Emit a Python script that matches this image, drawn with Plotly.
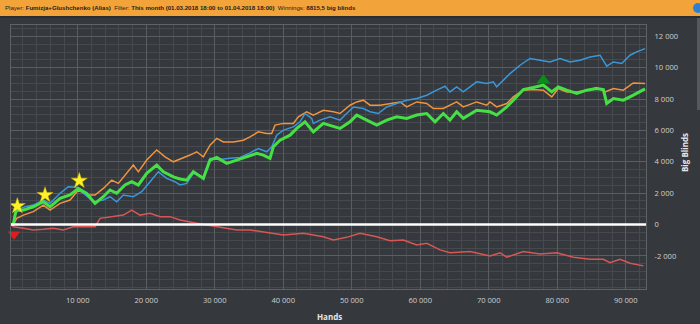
import plotly.graph_objects as go

# ---------------- data ----------------
green_x = [300, 600, 900, 1100, 2070, 3520, 4980, 5960, 7420, 8880, 10090, 11310, 12530, 13740, 14720,
           15690, 16900, 17880, 18850, 20070, 21530, 22500, 23960, 24930, 25910, 26880, 28340, 29310,
           30290, 31750, 33210, 34670, 36130, 37100, 38070, 38560, 39530, 41000, 41970, 43180, 44400,
           45860, 47320, 48290, 49750, 50730, 52190, 53650, 55110, 56570, 58030, 59490, 60950, 62160,
           63370, 64340, 65320, 66290, 68240, 70190, 71160, 72630, 73590, 75050, 76510, 77970, 79200,
           80160, 81390, 82850, 84310, 85770, 86740, 87230, 88200, 89650, 91110, 92820]
green_y = [0, 0, 700, 900, 920, 1130, 1450, 1130, 1670, 1880, 2300, 1990, 1350, 1770, 2200,
           1990, 2520, 2730, 2520, 3260, 3790, 3360, 3040, 2900, 2830, 3360, 2940, 4110,
           4280, 3900, 4110, 4320, 4540, 4430, 4220, 4960, 5380, 5700, 6130, 6550, 5910,
           6450, 6230, 6130, 6550, 6980, 6660, 6340, 6660, 6870, 6770, 6980, 7080, 6550,
           7080, 6660, 7190, 6770, 7290, 7190, 6980, 7500, 7930, 8610, 8740, 8890, 8460,
           8780, 8570, 8360, 8570, 8680, 8610, 7720, 8040, 7930, 8250, 8650]

blue_x = [300, 600, 900, 1100, 2310, 3520, 4980, 5960, 7420, 8630, 9850, 11070, 12280, 13740, 14720,
          15690, 16660, 18120, 19340, 20560, 21770, 22990, 24200, 24930, 25910, 26880, 28340, 29310,
          30770, 32230, 33700, 35160, 36370, 37590, 38320, 39050, 40020, 41480, 42450, 43180, 44160,
          44400, 45370, 46830, 48290, 49030, 50260, 51700, 52670, 53890, 55110, 56570, 58030, 59490,
          60950, 62410, 63620, 64340, 65320, 66290, 68240, 69700, 70670, 71160, 72130, 73110, 74570,
          76030, 77490, 78950, 80410, 81870, 83330, 84790, 86250, 87230, 88200, 89420, 90630, 91600,
          92820]
blue_y = [0, 0, 700, 900, 1130, 1240, 1560, 1350, 1990, 2410, 2370, 1880, 1450, 1560, 1770,
          1450, 1880, 1770, 2090, 2730, 3360, 2940, 2730, 2520, 2620, 3260, 3040, 4220,
          4150, 4220, 4280, 4570, 4850, 4640, 4960, 5700, 6020, 6230, 6550, 7080, 6770,
          6450, 6660, 6870, 6660, 6980, 7500, 7400, 7190, 7080, 7500, 7720, 7930, 8040,
          8250, 8570, 8820, 8460, 8780, 8460, 9100, 8990, 9100, 8780, 9200, 9630, 10160,
          10590, 10480, 10370, 10590, 10370, 10480, 10690, 10800, 10100, 10370, 10270, 10800, 11010,
          11220]

orange_x = [300, 600, 1090, 2060, 3520, 4980, 5960, 7420, 8880, 10090, 11310, 12530, 13740, 14960,
            15930, 17150, 18120, 18850, 20070, 21530, 22750, 23960, 24930, 26390, 27370, 28340, 29310,
            30290, 31260, 32720, 34180, 35150, 36370, 37590, 38320, 38800, 40020, 41480, 42210, 43430,
            44400, 45860, 47320, 48290, 49750, 50730, 51700, 52670, 54130, 55590, 57050, 58030, 59490,
            60950, 61920, 63370, 65320, 66290, 68240, 69700, 70190, 71160, 72630, 73590, 75050, 76510,
            77970, 79200, 80160, 81390, 82850, 84310, 85770, 86980, 88200, 89650, 91110, 92820]
orange_y = [0, 0, 390, 600, 820, 1240, 920, 1350, 1560, 2200, 1880, 1880, 2300, 2830,
            2620, 3260, 3790, 3360, 4110, 4750, 4320, 4000, 4160, 4430, 4640, 4320, 5060,
            5490, 5270, 5270, 5380, 5590, 5910, 5810, 5810, 6340, 6450, 6450, 6870, 7190,
            6980, 7290, 7190, 7080, 7610, 7820, 7930, 7610, 7610, 7720, 7820, 7500, 7820,
            7720, 7400, 7400, 7820, 7500, 7820, 7610, 7820, 7500, 7720, 8140, 8570, 8610,
            8570, 8140, 8680, 8460, 8460, 8570, 8740, 8460, 8680, 8570, 9030, 8990]

red_x = [300, 600, 2060, 3520, 4980, 6450, 7900, 9360, 10820, 12530, 13260, 14720, 16660, 17880,
         19100, 20560, 22020, 23470, 24930, 27370, 30290, 33210, 35160, 37100, 38080, 40020, 42940,
         45860, 47320, 49270, 51210, 53650, 55590, 57540, 59490, 60950, 62890, 64350, 67270, 70190,
         71650, 72630, 75060, 77490, 79930, 82360, 84790, 86740, 87710, 89170, 90630, 92580]
red_y = [0, -140, -240, -350, -310, -240, -350, -140, -140, -140, 390, 500, 600, 920,
         600, 710, 500, 500, 290, 80, -140, -350, -350, -460, -520, -670, -560,
         -780, -990, -820, -560, -780, -1030, -990, -1310, -1200, -1620, -1800, -1730, -2010,
         -1800, -2090, -1730, -1880, -1800, -2090, -2220, -2220, -2430, -2220, -2470, -2640]

star_x = [1190, 5230, 10230]
star_y = [1180, 1880, 2790]
down_x = [700]
down_y = [-620]
up_x = [77970]
up_y = [9200]

x_tickvals = [10000, 20000, 30000, 40000, 50000, 60000, 70000, 80000, 90000]
x_ticktext = ["10 000", "20 000", "30 000", "40 000", "50 000", "60 000", "70 000", "80 000", "90 000"]
y_tickvals = [-2000, 0, 2000, 4000, 6000, 8000, 10000, 12000]
y_ticktext = ["-2 000", "0", "2 000", "4 000", "6 000", "8 000", "10 000", "12 000"]

title_html = ("Player: <b>Fumizja+Glushchenko (Alias)</b>  Filter: <b>This month (01.03.2018 18:00 to "
              "01.04.2018 18:00)</b>  Winnings: <b>8815,5 big blinds</b>")

# ---------------- figure ----------------
BG = "#35383c"
fig = go.Figure()

fig.add_trace(go.Scatter(x=red_x, y=red_y, mode="lines", line=dict(color="#d85656", width=1.5), hoverinfo="skip"))
fig.add_trace(go.Scatter(x=orange_x, y=orange_y, mode="lines", line=dict(color="#ef9440", width=1.5), hoverinfo="skip"))
fig.add_trace(go.Scatter(x=blue_x, y=blue_y, mode="lines", line=dict(color="#3b97d8", width=1.5), hoverinfo="skip"))
fig.add_trace(go.Scatter(x=green_x, y=green_y, mode="lines", line=dict(color="#45e045", width=3), hoverinfo="skip"))
fig.add_trace(go.Scatter(x=star_x, y=star_y, mode="markers",
                         marker=dict(symbol="star", size=12, color="#fff02a", line=dict(color="#c8b400", width=0.5))))
fig.add_trace(go.Scatter(x=down_x, y=down_y, mode="markers", cliponaxis=False,
                         marker=dict(symbol="triangle-down", size=11, color="#e01c1c")))
fig.add_trace(go.Scatter(x=up_x, y=up_y, mode="markers",
                         marker=dict(symbol="triangle-up", size=12, color="#0c8a1c")))

W, H = 700, 324
L, R, T, B = 11, 54, 25, 35
pw, ph = W - L - R, H - T - B

def px_x(p):
    return (p - L) / pw

def px_y(p):
    return (H - B - p) / ph

shapes = [
    dict(type="line", xref="paper", yref="y", x0=0, x1=1, y0=0, y1=0, line=dict(color="white", width=2.5)),
    dict(type="rect", xref="paper", yref="paper", x0=px_x(0), x1=px_x(700), y0=px_y(16), y1=px_y(0),
         fillcolor="#f2a43a", line=dict(width=0), layer="above"),
    dict(type="rect", xref="paper", yref="paper", x0=px_x(0), x1=px_x(700), y0=px_y(18), y1=px_y(16),
         fillcolor="#2b2d30", line=dict(width=0), layer="above"),
    dict(type="rect", xref="paper", yref="paper", x0=px_x(697), x1=px_x(700), y0=px_y(110), y1=px_y(18),
         fillcolor="#55585c", line=dict(width=0), layer="above"),
    dict(type="circle", xref="paper", yref="paper", x0=px_x(693), x1=px_x(703), y0=px_y(13), y1=px_y(3),
         fillcolor="#2f7fd0", line=dict(width=0), layer="above"),
]

annotations = [
    dict(text=title_html, xref="paper", yref="paper", x=px_x(3), y=px_y(8), xanchor="left", yanchor="middle",
         showarrow=False, font=dict(family="Liberation Sans", size=6.1, color="#1e1e1e")),
    dict(text="<b>Hands</b>", xref="paper", yref="paper", x=px_x(329), y=px_y(316), xanchor="center", yanchor="middle",
         showarrow=False, font=dict(family="Open Sans", size=8, color="#e6e6e6")),
    dict(text="<b>Big Blinds</b>", xref="paper", yref="paper", x=px_x(684), y=px_y(153), xanchor="center", yanchor="middle",
         textangle=-90, showarrow=False, font=dict(family="Open Sans", size=8, color="#e6e6e6")),
]

fig.update_layout(
    width=W, height=H,
    margin=dict(l=L, r=R, t=T, b=B, pad=0),
    paper_bgcolor=BG, plot_bgcolor=BG,
    showlegend=False,
    shapes=shapes, annotations=annotations,
    font=dict(family="Open Sans", size=7.6, color="#cfcfcf"),
)
fig.update_xaxes(
    range=[260, 92960], tickvals=x_tickvals, ticktext=x_ticktext,
    showgrid=True, gridcolor="#5a5d61", gridwidth=1, zeroline=False,
    minor=dict(dtick=2000, tick0=0, showgrid=True, gridcolor="#46494d", gridwidth=1),
    showline=True, mirror=True, linecolor="#5f6266", linewidth=1, ticks="",
    ticklabelstandoff=4,
)
fig.update_yaxes(
    range=[-4115, 12727], side="right", tickvals=y_tickvals, ticktext=y_ticktext,
    showgrid=True, gridcolor="#5a5d61", gridwidth=1, zeroline=False,
    minor=dict(dtick=500, tick0=0, showgrid=True, gridcolor="#46494d", gridwidth=1),
    showline=True, mirror=True, linecolor="#5f6266", linewidth=1, ticks="",
    ticklabelstandoff=6,
)

fig.write_html("out.html")
